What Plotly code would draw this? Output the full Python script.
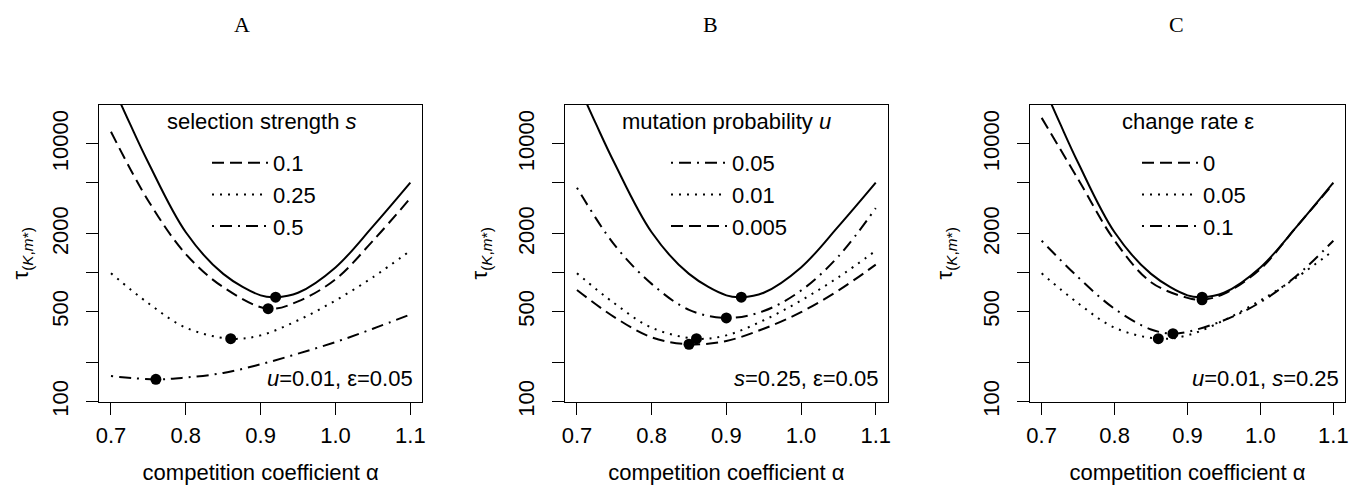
import plotly.graph_objects as go

# ---------------- data ----------------
x_ticks = [0.7, 0.8, 0.9, 1.0, 1.1]
y_tickvals = [100, 500, 2000, 10000]
y_ticktext = ["100", "500", "2000", "10000"]
y_minor_ticks = [200, 1000, 5000]

# reference (solid) curve, identical in all panels
alpha_solid = [0.70, 0.725, 0.75, 0.80, 0.85, 0.90, 0.92, 0.95, 1.00, 1.05, 1.10]
tau_solid = [30200, 14450, 7130, 2060, 980, 668, 647, 700, 1100, 2290, 5000]

# shared curve s=0.25, u=0.01, eps=0.05 (dotted in all panels)
alpha_base = [0.70, 0.75, 0.80, 0.86, 0.90, 0.95, 1.00, 1.05, 1.10]
tau_base = [991, 580, 375, 308, 327, 428, 610, 923, 1483]

# Panel A: selection strength s
alpha_s01 = [0.70, 0.75, 0.80, 0.85, 0.91, 0.95, 1.00, 1.05, 1.10]
tau_s01 = [12390, 3607, 1396, 773, 526, 600, 890, 1770, 3785]
alpha_s05 = [0.70, 0.76, 0.80, 0.85, 0.90, 0.95, 1.00, 1.05, 1.10]
tau_s05 = [158, 149, 154, 167, 195, 236, 290, 368, 475]
minA_alpha = [0.92, 0.91, 0.86, 0.76]
minA_tau = [647, 526, 308, 149]

# Panel B: mutation probability u
alpha_u005 = [0.70, 0.75, 0.80, 0.85, 0.90, 0.95, 1.00, 1.05, 1.10]
tau_u005 = [4571, 1650, 820, 516, 446, 505, 728, 1340, 3170]
alpha_u0005 = [0.70, 0.75, 0.80, 0.85, 0.90, 0.95, 1.00, 1.05, 1.10]
tau_u0005 = [736, 453, 316, 279, 296, 368, 495, 728, 1156]
minB_alpha = [0.92, 0.90, 0.86, 0.85]
minB_tau = [647, 446, 308, 279]

# Panel C: change rate eps
alpha_e0 = [0.70, 0.75, 0.80, 0.85, 0.90, 0.92, 0.95, 1.00, 1.05, 1.10]
tau_e0 = [15890, 5310, 1780, 845, 639, 617, 687, 1071, 2290, 4910]
alpha_e01 = [0.70, 0.75, 0.80, 0.85, 0.88, 0.90, 0.95, 1.00, 1.05, 1.10]
tau_e01 = [1771, 923, 525, 363, 337, 348, 428, 591, 951, 1771]
minC_alpha = [0.92, 0.92, 0.86, 0.88]
minC_tau = [647, 617, 308, 337]

# ---------------- styling ----------------
OFF = 8                               # default body margin of the html page
W, H = 1357 - 2 * OFF, 493 - 2 * OFF  # page fits the window exactly


def px(X):
    return (X - OFF) / W


def py(Y):
    return 1 - (Y - OFF) / H


FONT = "Liberation Sans, Arial, Helvetica, sans-serif"
DASH = "12px,6px"
DOT = "2px,6px"
DOTDASH = "2px,6px,12px,6px"
LW = 2

panels = [
    dict(xa="x", ya="y", leg="legend", dom=(99, 422.3)),
    dict(xa="x2", ya="y2", leg="legend2", dom=(565, 887.7)),
    dict(xa="x3", ya="y3", leg="legend3", dom=(1030, 1345)),
]

fig = go.Figure()


def line(p, x, y, dash, name=None):
    fig.add_trace(go.Scatter(
        x=x, y=y, mode="lines", xaxis=p["xa"], yaxis=p["ya"],
        line=dict(color="black", width=LW, dash=dash, shape="spline", smoothing=1.0),
        name=name if name else "", showlegend=name is not None, legend=p["leg"],
        hoverinfo="skip"))


def dots(p, x, y):
    fig.add_trace(go.Scatter(
        x=x, y=y, mode="markers", xaxis=p["xa"], yaxis=p["ya"],
        marker=dict(color="black", size=11), showlegend=False, hoverinfo="skip"))


pA, pB, pC = panels
# Panel A
line(pA, alpha_solid, tau_solid, "solid")
line(pA, alpha_s01, tau_s01, DASH, "0.1")
line(pA, alpha_base, tau_base, DOT, "0.25")
line(pA, alpha_s05, tau_s05, DOTDASH, "0.5")
dots(pA, minA_alpha, minA_tau)
# Panel B
line(pB, alpha_solid, tau_solid, "solid")
line(pB, alpha_u005, tau_u005, DOTDASH, "0.05")
line(pB, alpha_base, tau_base, DOT, "0.01")
line(pB, alpha_u0005, tau_u0005, DASH, "0.005")
dots(pB, minB_alpha, minB_tau)
# Panel C
line(pC, alpha_solid, tau_solid, "solid")
line(pC, alpha_e0, tau_e0, DASH, "0")
line(pC, alpha_base, tau_base, DOT, "0.05")
line(pC, alpha_e01, tau_e01, DOTDASH, "0.1")
dots(pC, minC_alpha, minC_tau)

ydom = [py(401.7), py(105)]
layout = dict(
    width=W, height=H, margin=dict(l=0, r=0, t=0, b=0),
    paper_bgcolor="white", plot_bgcolor="white",
    font=dict(family=FONT, size=22, color="black"),
    showlegend=True,
)
for i, p in enumerate(panels):
    sfx = "" if i == 0 else str(i + 1)
    layout["xaxis" + sfx] = dict(
        domain=[px(p["dom"][0]), px(p["dom"][1])], anchor="y" + sfx,
        range=[0.684, 1.116], tickvals=x_ticks, tickformat=".1f",
        ticks="outside", ticklen=12, tickwidth=1, tickcolor="black",
        showline=True, linecolor="black", linewidth=1, mirror=True,
        showgrid=False, zeroline=False, ticklabelstandoff=2,
        ticklabeloverflow="allow",
        title=dict(text="competition coefficient α", standoff=19,
                   font=dict(size=22)),
        automargin=False,
    )
    layout["yaxis" + sfx] = dict(
        domain=ydom, anchor="x" + sfx, type="log", range=[2, 4.30103],
        tickvals=y_tickvals, ticktext=y_ticktext, tickangle=-90,
        ticks="outside", ticklen=12, tickwidth=1, tickcolor="black",
        minor=dict(tickmode="array", tickvals=y_minor_ticks, ticks="outside",
                   ticklen=12, tickwidth=1, tickcolor="black", showgrid=False),
        showline=True, linecolor="black", linewidth=1, mirror=True,
        showgrid=False, zeroline=False, ticklabelstandoff=9,
        title=dict(text="τ<sub>(<i>K</i>,<i>m</i>*)</sub>", standoff=20,
                   font=dict(size=22)),
        automargin=False,
    )

leg_x = [207, 666, 1137]
for i, lx in enumerate(leg_x):
    key = "legend" if i == 0 else "legend" + str(i + 1)
    layout[key] = dict(
        x=px(lx), xanchor="left", y=py(142), yanchor="top",
        bgcolor="rgba(0,0,0,0)", borderwidth=0, itemwidth=56,
        font=dict(family=FONT, size=22), tracegroupgap=0,
        itemclick=False, itemdoubleclick=False,
    )

fig.update_layout(**layout)

ann = []
for txt, xc in [("A", 242), ("B", 710), ("C", 1176)]:
    ann.append(dict(text=txt, x=px(xc), y=py(25), xref="paper", yref="paper",
                    showarrow=False, xanchor="center", yanchor="middle",
                    font=dict(family="Liberation Serif, Times New Roman, serif", size=22)))
for txt, xc in [("selection strength <i>s</i>", 261.7),
                ("mutation probability <i>u</i>", 726.3),
                ("change rate ε", 1188)]:
    ann.append(dict(text=txt, x=px(xc), y=py(121.7), xref="paper", yref="paper",
                    showarrow=False, xanchor="center", yanchor="middle",
                    font=dict(family=FONT, size=22)))
for txt, xr in [("<i>u</i>=0.01, ε=0.05", 415),
                ("<i>s</i>=0.25, ε=0.05", 880),
                ("<i>u</i>=0.01, <i>s</i>=0.25", 1341)]:
    ann.append(dict(text=txt, x=px(xr), y=py(378.3), xref="paper", yref="paper",
                    showarrow=False, xanchor="right", yanchor="middle",
                    font=dict(family=FONT, size=22)))
fig.update_layout(annotations=ann)

fig.write_html("out.html")
